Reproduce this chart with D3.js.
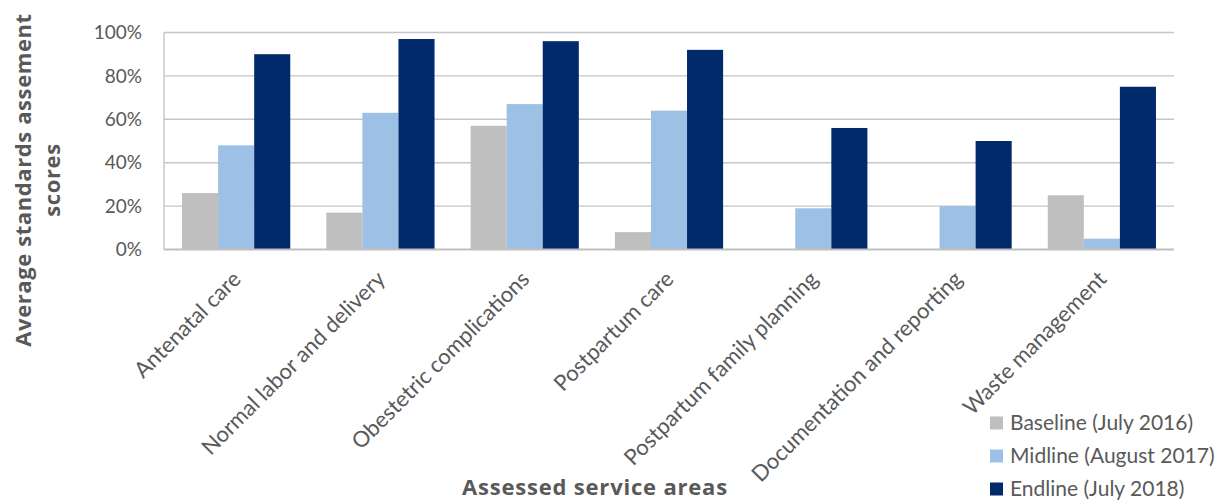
<!DOCTYPE html>
<html>
<head>
<meta charset="utf-8">
<script src="https://cdn.jsdelivr.net/npm/d3@7"></script>
<style>
  html, body { margin: 0; padding: 0; background: #fff; }
  svg { display: block; }
</style>
</head>
<body>
<svg id="chart" width="1225" height="502"></svg>
<script>
const categories = ["Antenatal care", "Normal labor and delivery", "Obestetric complications", "Postpartum care", "Postpartum family planning", "Documentation and reporting", "Waste management"];
const seriesNames = ["Baseline (July 2016)", "Midline (August 2017)", "Endline (July 2018)"];
const baseline = [26, 17, 57, 8, 0, 0, 25];
const midline  = [48, 63, 67, 64, 19, 20, 5];
const endline  = [90, 97, 96, 92, 56, 50, 75];
const seriesColors = ["#BFBFBF", "#9DC0E5", "#002A6C"];
const yTicks = [0, 20, 40, 60, 80, 100];
const yTitleLines = ["Average standards assement", "scores"];
const xTitle = "Assessed service areas";

const series = [baseline, midline, endline];
const svg = d3.select("#chart");
const plotLeft = 164, plotRight = 1174, plotTop = 32.5, plotBottom = 249.5;
const textColor = "#595959";
const regFont = "Lato, 'Open Sans', sans-serif";
const boldFont = "'Open Sans', Lato, sans-serif";

const x = d3.scaleBand().domain(categories).range([plotLeft, plotRight]).paddingInner(0.25).paddingOuter(0.125);
const xs = d3.scaleBand().domain(d3.range(series.length)).range([0, x.bandwidth()]);
const y = d3.scaleLinear().domain([0, 100]).range([plotBottom, plotTop]);

// gridlines
svg.append("g").selectAll("line").data(yTicks.filter(t => t > 0)).join("line")
  .attr("x1", plotLeft).attr("x2", plotRight)
  .attr("y1", d => y(d)).attr("y2", d => y(d))
  .attr("stroke", "#C6C6C6").attr("stroke-width", 1.4);

// bars
const groups = svg.append("g").selectAll("g").data(categories).join("g")
  .attr("transform", d => `translate(${x(d)},0)`);
groups.selectAll("rect").data((c, i) => series.map((s, j) => ({ j, v: s[i] }))).join("rect")
  .attr("x", d => xs(d.j)).attr("width", xs.bandwidth())
  .attr("y", d => y(d.v)).attr("height", d => y(0) - y(d.v))
  .attr("fill", d => seriesColors[d.j]);

// axes lines
svg.append("line").attr("x1", plotLeft).attr("x2", plotLeft).attr("y1", plotTop).attr("y2", plotBottom)
  .attr("stroke", "#C6C6C6").attr("stroke-width", 1.4);
svg.append("line").attr("x1", plotLeft).attr("x2", plotRight).attr("y1", plotBottom).attr("y2", plotBottom)
  .attr("stroke", "#BFBFBF").attr("stroke-width", 2);

// y tick labels
svg.append("g").selectAll("text").data(yTicks).join("text")
  .attr("x", 142).attr("y", d => y(d)).attr("dy", "0.35em")
  .attr("text-anchor", "end")
  .attr("font-family", regFont).attr("font-size", 19).attr("fill", textColor)
  .text(d => d + "%");

// x labels
svg.append("g").selectAll("text").data(categories).join("text")
  .attr("transform", d => `translate(${x(d) + x.bandwidth() / 2 + 6},${plotBottom + 31}) rotate(-45)`)
  .attr("text-anchor", "end")
  .attr("font-family", regFont).attr("font-size", 22).attr("fill", textColor)
  .text(d => d);

// y title
const yt = svg.append("text")
  .attr("transform", `translate(0,180) rotate(-90)`)
  .attr("text-anchor", "middle")
  .attr("font-family", boldFont).attr("font-weight", "bold").attr("font-size", 22)
  .attr("letter-spacing", 0.6).attr("fill", textColor);
yTitleLines.forEach((l, i) => {
  yt.append("tspan").attr("x", 0).attr("y", 31 + i * 29).text(l);
});

// x title
svg.append("text").attr("x", 595).attr("y", 495).attr("text-anchor", "middle")
  .attr("font-family", boldFont).attr("font-weight", "bold").attr("font-size", 22)
  .attr("letter-spacing", 0.8).attr("fill", textColor)
  .text(xTitle);

// legend
const lg = svg.append("g").selectAll("g").data(seriesNames).join("g")
  .attr("transform", (d, i) => `translate(990,${423 + i * 33})`);
lg.append("rect").attr("x", 0).attr("y", -6.5).attr("width", 13).attr("height", 13)
  .attr("fill", (d, i) => seriesColors[i]);
lg.append("text").attr("x", 20).attr("y", 0).attr("dy", "0.35em")
  .attr("font-family", regFont).attr("font-size", 21).attr("fill", textColor)
  .text(d => d);
</script>
</body>
</html>
